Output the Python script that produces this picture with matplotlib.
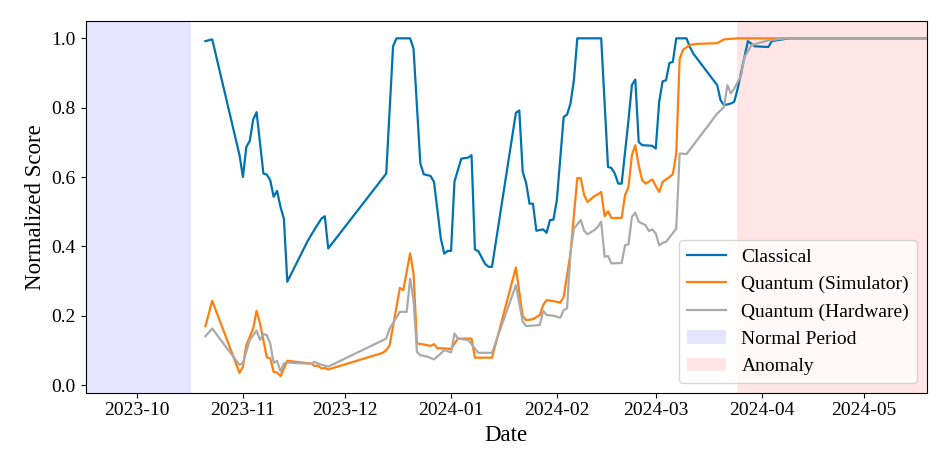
import matplotlib
matplotlib.use("Agg")
import matplotlib.pyplot as plt
import matplotlib.dates as mdates
import pandas as pd

plt.rcParams['font.family'] = ['Liberation Serif', 'DejaVu Serif']

classical_dates = [
    "2023-10-21", "2023-10-23", "2023-10-31", "2023-11-01", "2023-11-02", "2023-11-03",
    "2023-11-04", "2023-11-05", "2023-11-07", "2023-11-08", "2023-11-09", "2023-11-10",
    "2023-11-11", "2023-11-12", "2023-11-13", "2023-11-14", "2023-11-20", "2023-11-22",
    "2023-11-24", "2023-11-25", "2023-11-26", "2023-12-13", "2023-12-15", "2023-12-16",
    "2023-12-20", "2023-12-21", "2023-12-23", "2023-12-24", "2023-12-26", "2023-12-27",
    "2023-12-29", "2023-12-30", "2023-12-31", "2024-01-01", "2024-01-02", "2024-01-04",
    "2024-01-06", "2024-01-07", "2024-01-08", "2024-01-09", "2024-01-11", "2024-01-12",
    "2024-01-13", "2024-01-20", "2024-01-21", "2024-01-22", "2024-01-23", "2024-01-24",
    "2024-01-25", "2024-01-26", "2024-01-28", "2024-01-29", "2024-01-30", "2024-01-31",
    "2024-02-01", "2024-02-03", "2024-02-04", "2024-02-05", "2024-02-06", "2024-02-07",
    "2024-02-14", "2024-02-16", "2024-02-17", "2024-02-18", "2024-02-19", "2024-02-20",
    "2024-02-22", "2024-02-23", "2024-02-24", "2024-02-25", "2024-02-26", "2024-02-29",
    "2024-03-01", "2024-03-02", "2024-03-03", "2024-03-04", "2024-03-05", "2024-03-06",
    "2024-03-07", "2024-03-10", "2024-03-11", "2024-03-12", "2024-03-19", "2024-03-20",
    "2024-03-21", "2024-03-23", "2024-03-24", "2024-03-25", "2024-03-28", "2024-03-30",
    "2024-04-03", "2024-04-04", "2024-04-09", "2024-05-20",
]
classical_values = [
    0.992, 0.997, 0.663, 0.600, 0.687, 0.704,
    0.766, 0.787, 0.610, 0.607, 0.591, 0.543,
    0.560, 0.514, 0.480, 0.298, 0.416, 0.449,
    0.480, 0.487, 0.394, 0.610, 0.977, 1.000,
    1.000, 0.970, 0.639, 0.608, 0.603, 0.586,
    0.423, 0.379, 0.387, 0.387, 0.587, 0.653,
    0.656, 0.663, 0.391, 0.386, 0.349, 0.341,
    0.341, 0.785, 0.792, 0.615, 0.583, 0.523,
    0.523, 0.445, 0.449, 0.439, 0.476, 0.477,
    0.533, 0.773, 0.780, 0.812, 0.879, 1.000,
    1.000, 0.629, 0.626, 0.610, 0.581, 0.581,
    0.764, 0.865, 0.881, 0.701, 0.692, 0.690,
    0.682, 0.817, 0.876, 0.879, 0.929, 0.932,
    1.000, 1.000, 0.975, 0.956, 0.865, 0.821,
    0.807, 0.812, 0.817, 0.855, 0.992, 0.977,
    0.975, 0.992, 1.000, 1.000,
]

sim_dates = [
    "2023-10-21", "2023-10-23", "2023-10-31", "2023-11-01", "2023-11-02", "2023-11-03",
    "2023-11-04", "2023-11-05", "2023-11-06", "2023-11-08", "2023-11-09", "2023-11-10",
    "2023-11-11", "2023-11-12", "2023-11-14", "2023-11-21", "2023-11-22", "2023-11-23",
    "2023-11-24", "2023-11-25", "2023-11-26", "2023-12-12", "2023-12-13", "2023-12-14",
    "2023-12-17", "2023-12-18", "2023-12-20", "2023-12-21", "2023-12-22", "2023-12-24",
    "2023-12-26", "2023-12-27", "2023-12-28", "2023-12-30", "2024-01-01", "2024-01-02",
    "2024-01-03", "2024-01-07", "2024-01-08", "2024-01-13", "2024-01-20", "2024-01-22",
    "2024-01-23", "2024-01-25", "2024-01-27", "2024-01-28", "2024-01-29", "2024-01-31",
    "2024-02-02", "2024-02-03", "2024-02-05", "2024-02-07", "2024-02-08", "2024-02-09",
    "2024-02-10", "2024-02-12", "2024-02-13", "2024-02-14", "2024-02-15", "2024-02-16",
    "2024-02-17", "2024-02-20", "2024-02-21", "2024-02-22", "2024-02-23", "2024-02-24",
    "2024-02-25", "2024-02-26", "2024-02-27", "2024-02-29", "2024-03-01", "2024-03-02",
    "2024-03-03", "2024-03-05", "2024-03-06", "2024-03-07", "2024-03-08", "2024-03-09",
    "2024-03-11", "2024-03-13", "2024-03-19", "2024-03-21", "2024-03-25", "2024-05-20",
]
sim_values = [
    0.170, 0.243, 0.035, 0.053, 0.115, 0.139,
    0.163, 0.214, 0.178, 0.080, 0.077, 0.038,
    0.036, 0.026, 0.070, 0.062, 0.055, 0.056,
    0.048, 0.049, 0.045, 0.093, 0.101, 0.115,
    0.280, 0.274, 0.380, 0.322, 0.120, 0.117,
    0.113, 0.118, 0.106, 0.106, 0.104, 0.120,
    0.134, 0.134, 0.079, 0.079, 0.339, 0.199,
    0.187, 0.190, 0.202, 0.231, 0.245, 0.242,
    0.238, 0.254, 0.380, 0.597, 0.597, 0.548,
    0.528, 0.545, 0.550, 0.557, 0.487, 0.501,
    0.482, 0.482, 0.548, 0.571, 0.663, 0.692,
    0.634, 0.591, 0.581, 0.593, 0.574, 0.557,
    0.586, 0.600, 0.608, 0.668, 0.941, 0.967,
    0.981, 0.984, 0.986, 0.997, 1.000, 1.000,
]

hw_dates = [
    "2023-10-21", "2023-10-23", "2023-10-31", "2023-11-01", "2023-11-03", "2023-11-05",
    "2023-11-06", "2023-11-07", "2023-11-08", "2023-11-09", "2023-11-10", "2023-11-11",
    "2023-11-12", "2023-11-13", "2023-11-14", "2023-11-21", "2023-11-22", "2023-11-23",
    "2023-11-26", "2023-12-13", "2023-12-14", "2023-12-17", "2023-12-19", "2023-12-20",
    "2023-12-21", "2023-12-22", "2023-12-23", "2023-12-25", "2023-12-27", "2023-12-29",
    "2023-12-30", "2024-01-01", "2024-01-02", "2024-01-03", "2024-01-06", "2024-01-09",
    "2024-01-13", "2024-01-20", "2024-01-22", "2024-01-23", "2024-01-27", "2024-01-28",
    "2024-01-29", "2024-01-31", "2024-02-02", "2024-02-03", "2024-02-04", "2024-02-05",
    "2024-02-06", "2024-02-08", "2024-02-09", "2024-02-10", "2024-02-12", "2024-02-13",
    "2024-02-14", "2024-02-15", "2024-02-16", "2024-02-17", "2024-02-20", "2024-02-21",
    "2024-02-22", "2024-02-23", "2024-02-24", "2024-02-25", "2024-02-27", "2024-02-28",
    "2024-02-29", "2024-03-01", "2024-03-02", "2024-03-03", "2024-03-04", "2024-03-07",
    "2024-03-08", "2024-03-10", "2024-03-12", "2024-03-19", "2024-03-21", "2024-03-22",
    "2024-03-23", "2024-03-24", "2024-03-26", "2024-03-27", "2024-03-29", "2024-03-31",
    "2024-04-03", "2024-04-08", "2024-05-20",
]
hw_values = [
    0.141, 0.163, 0.058, 0.064, 0.130, 0.157,
    0.130, 0.147, 0.144, 0.120, 0.064, 0.070,
    0.040, 0.062, 0.065, 0.061, 0.067, 0.062,
    0.053, 0.134, 0.163, 0.211, 0.211, 0.307,
    0.245, 0.096, 0.086, 0.082, 0.074, 0.091,
    0.101, 0.094, 0.149, 0.134, 0.130, 0.093,
    0.093, 0.288, 0.183, 0.170, 0.173, 0.214,
    0.202, 0.200, 0.194, 0.216, 0.221, 0.380,
    0.451, 0.476, 0.445, 0.435, 0.447, 0.456,
    0.471, 0.370, 0.372, 0.351, 0.352, 0.403,
    0.406, 0.485, 0.497, 0.471, 0.461, 0.444,
    0.449, 0.437, 0.403, 0.410, 0.413, 0.451,
    0.668, 0.666, 0.692, 0.783, 0.802, 0.865,
    0.841, 0.855, 0.893, 0.946, 0.980, 0.986,
    0.994, 1.000, 1.000,
]

normal_period = ("2023-09-01", "2023-10-16 22:00")
anomaly_period = ("2024-03-24 17:00", "2024-06-01")
x_limits = ("2023-09-15 22:00", "2024-05-19 10:00")

fig = plt.figure(figsize=(9.47, 4.73), dpi=100)
ax = fig.add_axes([0.0905, 0.1698, 0.8881, 0.7858])

ax.axvspan(pd.Timestamp(normal_period[0]), pd.Timestamp(normal_period[1]),
           color='blue', alpha=0.1, lw=0, label='Normal Period')
ax.axvspan(pd.Timestamp(anomaly_period[0]), pd.Timestamp(anomaly_period[1]),
           color='red', alpha=0.1, lw=0, label='Anomaly')

l1, = ax.plot(pd.to_datetime(classical_dates), classical_values, color='#0072B2', lw=1.6, label='Classical')
l2, = ax.plot(pd.to_datetime(sim_dates), sim_values, color='#FF7F0E', lw=1.6, label='Quantum (Simulator)')
l3, = ax.plot(pd.to_datetime(hw_dates), hw_values, color='#AAAAAA', lw=1.6, label='Quantum (Hardware)')

ax.set_xlim(pd.Timestamp(x_limits[0]), pd.Timestamp(x_limits[1]))
ax.set_ylim(-0.022, 1.05)
ax.set_yticks([0.0, 0.2, 0.4, 0.6, 0.8, 1.0])
ax.xaxis.set_major_locator(mdates.MonthLocator())
ax.xaxis.set_major_formatter(mdates.DateFormatter('%Y-%m'))
ax.tick_params(labelsize=14)
ax.set_xlabel('Date', fontsize=16.5)
ax.set_ylabel('Normalized Score', fontsize=16.5)

handles, labels = ax.get_legend_handles_labels()
order = [labels.index(n) for n in ['Classical', 'Quantum (Simulator)', 'Quantum (Hardware)', 'Normal Period', 'Anomaly']]
ax.legend([handles[i] for i in order], [labels[i] for i in order], loc='lower right', fontsize=14)

fig.savefig('out.png', dpi=100)
